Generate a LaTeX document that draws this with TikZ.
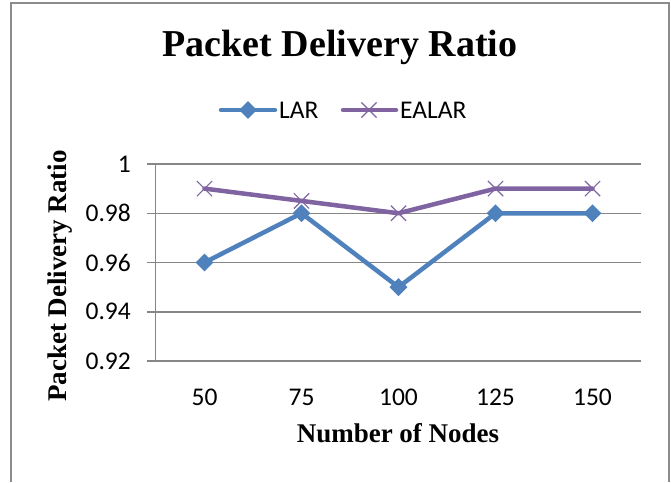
\documentclass[tikz,border=0pt]{standalone}
\usepackage{fontspec}
\setmainfont{Liberation Serif}
\newfontfamily\calibri{Carlito}
\usetikzlibrary{shapes.geometric, shapes.misc}

\definecolor{larblue}{HTML}{4F81BD}
\definecolor{ealarpurple}{HTML}{8064A2}
\definecolor{gridgray}{HTML}{868686}
\definecolor{framegray}{HTML}{8C8C8C}

\begin{document}
\begin{tikzpicture}[x=1pt, y=-1pt,
    grid/.style={draw=gridgray, line width=1.5pt},
    ticklbl/.style={font=\calibri\fontsize{25.5}{28}\selectfont, inner sep=0pt},
    axtitle/.style={font=\bfseries\fontsize{27}{30}\selectfont, inner sep=0pt},
    larline/.style={draw=larblue, line width=4.5pt, line join=round, line cap=round},
    ealarline/.style={draw=ealarpurple, line width=4.5pt, line join=round, line cap=round},
    larmark/.style={diamond, fill=larblue, inner sep=0pt, minimum size=18pt},
    ealarmark/.style={cross out, draw=ealarpurple, line width=1.2pt, inner sep=0pt,
      minimum size=14pt},
  ]
    \useasboundingbox (0,0) rectangle (671,482);

    % frame
    \draw[framegray, line width=1.5pt] (11,482) -- (11,3) -- (669,3) -- (669,482);

    % titles
    \node[font=\bfseries\fontsize{38}{42}\selectfont, inner sep=0pt] (title) at (340,47)
      {Packet Delivery Ratio};
    \node[axtitle] (xtitle) at (398,433) {Number of Nodes};
    \node[axtitle, rotate=90] (ytitle) at (60,276) {Packet Delivery Ratio};

    % grid and value axis
    \foreach \y/\lbl [count=\i] in {164/1, 213.25/0.98, 262.5/0.96, 311.75/0.94, 361/0.92} {
      \draw[grid] (147,\y) -- (641,\y);
      \node[ticklbl, anchor=east] (ylbl\i) at (131,\y) {\lbl};
    }
    \draw[grid] (155.5,164) -- (155.5,361);

    % categories
    \foreach \x/\lbl [count=\i] in {204.5/50, 301.5/75, 398.5/100, 495.5/125, 592.5/150}
      \node[ticklbl] (xlbl\i) at (\x,397) {\lbl};

    % data points
    \foreach \x/\y [count=\i] in {204.5/262.5, 301.5/213.25, 398.5/287.1, 495.5/213.25, 592.5/213.25}
      \coordinate (lar\i) at (\x,\y);
    \foreach \x/\y [count=\i] in {204.5/188.6, 301.5/200.9, 398.5/213.25, 495.5/188.6, 592.5/188.6}
      \coordinate (ealar\i) at (\x,\y);

    % series
    \draw[ealarline] (ealar1) -- (ealar2) -- (ealar3) -- (ealar4) -- (ealar5);
    \foreach \i in {1,...,5}
      \node[ealarmark] (em\i) at (ealar\i) {};
    \draw[larline] (lar1) -- (lar2) -- (lar3) -- (lar4) -- (lar5);
    \foreach \i in {1,...,5}
      \node[larmark] (lm\i) at (lar\i) {};

    % legend
    \coordinate (lgA) at (221,110);
    \coordinate (lgB) at (275,110);
    \draw[larline] (lgA) -- (lgB);
    \node[larmark] (lgmark1) at (248,110) {};
    \node[ticklbl, anchor=west] (lgtext1) at (279,110) {LAR};
    \coordinate (lgC) at (343,110);
    \coordinate (lgD) at (396,110);
    \draw[ealarline] (lgC) -- (lgD);
    \node[ealarmark] (lgmark2) at (369,110) {};
    \node[ticklbl, anchor=west] (lgtext2) at (400,110) {EALAR};
  \end{tikzpicture}
\end{document}
